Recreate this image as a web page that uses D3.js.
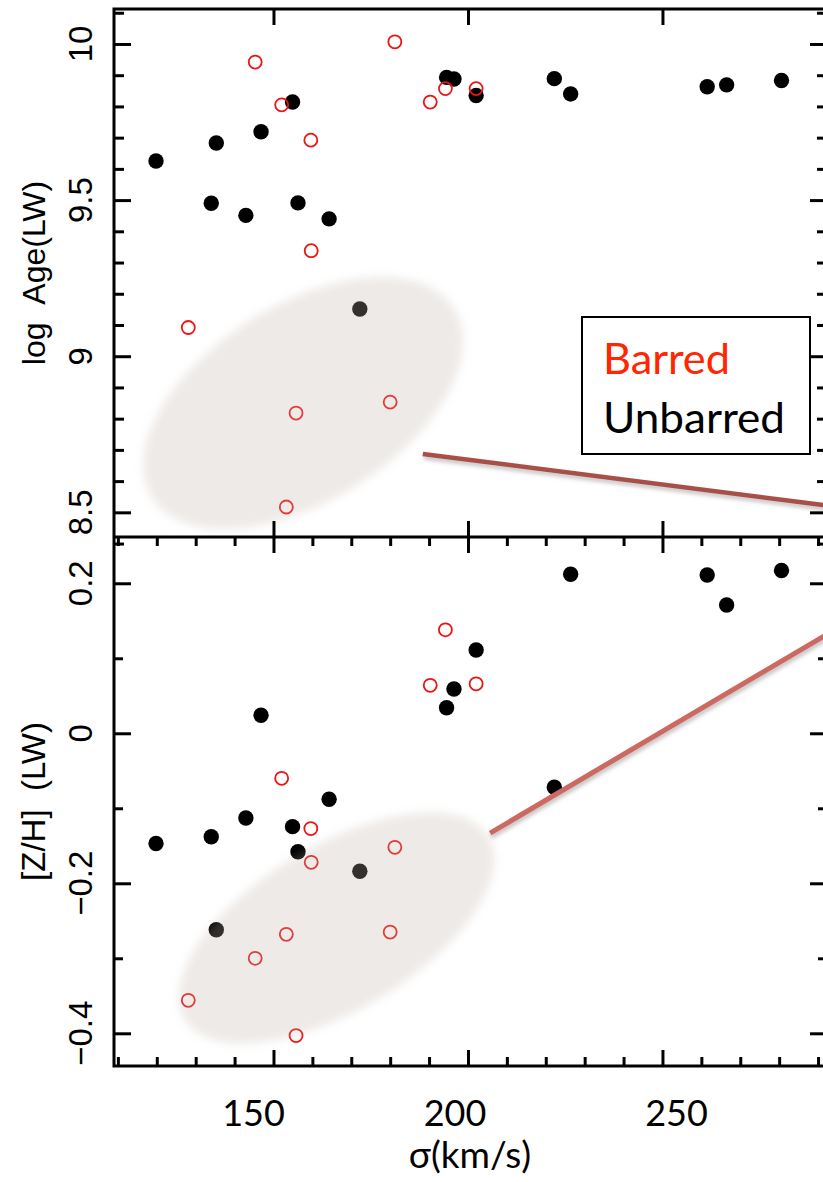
<!DOCTYPE html>
<html><head><meta charset="utf-8">
<script src="https://cdn.jsdelivr.net/npm/d3@7"></script>
<style>html,body{margin:0;padding:0;background:#fff;overflow:hidden}</style>
</head><body>
<svg id="c" width="823" height="1182"></svg>
<script>
// ---------------- data ----------------
const sigmaUnbarred = [119.8, 135.3, 134.0, 146.8, 142.9, 154.9, 156.3, 164.3, 172.2, 194.5, 196.4, 202.1, 222.2, 226.4, 261.5, 266.5, 280.6];
const ageUnbarred   = [9.625, 9.683, 9.490, 9.719, 9.451, 9.814, 9.491, 9.440, 9.151, 9.893, 9.888, 9.835, 9.889, 9.840, 9.863, 9.869, 9.883];
const zhUnbarred    = [-0.147, -0.262, -0.138, 0.024, -0.113, -0.1245, -0.158, -0.088, -0.184, 0.034, 0.059, 0.111, -0.072, 0.212, 0.211, 0.171, 0.217];

const sigmaBarred = [181.2, 145.3, 152.1, 159.6, 159.7, 128.1, 155.8, 180.0, 153.3, 190.3, 194.2, 202.1];
const ageBarred   = [10.007, 9.942, 9.805, 9.692, 9.338, 9.092, 8.818, 8.853, 8.517, 9.814, 9.857, 9.857];
const zhBarred    = [-0.152, -0.300, -0.060, -0.127, -0.172, -0.356, -0.403, -0.265, -0.268, 0.064, 0.138, 0.066];

const sigmaTicks = [150, 200, 250];
const sigmaTickLabels = ["150", "200", "250"];
const ageTicks = [8.5, 9, 9.5, 10];
const ageTickLabels = ["8.5", "9", "9.5", "10"];
const zhTicks = [-0.4, -0.2, 0, 0.2];
const zhTickLabels = ["\u22120.4", "\u22120.2", "0", "0.2"];

const ageTrendSigma = [188.4, 292.3];
const ageTrendValue = [8.687, 8.522];
const zhTrendSigma = [205.7, 292.3];
const zhTrendValue = [-0.133, 0.132];

const ageRegionCenter = [157.6, 8.850];
const zhRegionCenter = [166.2, -0.2596];

const legendLabels = ["Barred", "Unbarred"];

// ---------------- layout ----------------
const L = 114, R = 827, T1 = 9, M = 537, B2 = 1066;
const x = d3.scaleLinear().domain([109, 292.3]).range([L, R]);
const yAge = d3.scaleLinear().domain([8.421, 10.112]).range([M, T1]);
const yZ = d3.scaleLinear().domain([-0.4436, 0.2617]).range([B2, M]);

const svg = d3.select("#c");
const defs = svg.append("defs");
const blur = defs.append("filter").attr("id", "blur").attr("x", "-30%").attr("y", "-30%").attr("width", "160%").attr("height", "160%");
blur.append("feGaussianBlur").attr("stdDeviation", 5);
const sh = defs.append("filter").attr("id", "shadow").attr("x", "-10%").attr("y", "-50%").attr("width", "120%").attr("height", "200%");
sh.append("feDropShadow").attr("dx", 1).attr("dy", 3).attr("stdDeviation", 2).attr("flood-color", "#888").attr("flood-opacity", 0.55);

const red = "#ee1414";
const black = "#000";

function drawPoints(ySc, sigB, valB, sigU, valU) {
  const g = svg.append("g");
  g.selectAll("circle.u").data(d3.zip(sigU, valU)).join("circle")
    .attr("cx", d => x(d[0])).attr("cy", d => ySc(d[1])).attr("r", 7.7).attr("fill", black);
  g.selectAll("circle.b").data(d3.zip(sigB, valB)).join("circle")
    .attr("cx", d => x(d[0])).attr("cy", d => ySc(d[1])).attr("r", 6.5)
    .attr("fill", "none").attr("stroke", red).attr("stroke-width", 1.8);
}
drawPoints(yAge, sigmaBarred, ageBarred, sigmaUnbarred, ageUnbarred);
drawPoints(yZ, sigmaBarred, zhBarred, sigmaUnbarred, zhUnbarred);

// shaded regions (semi-transparent overlay)
function region(ySc, c, rx, ry, rot) {
  const cx = x(c[0]), cy = ySc(c[1]);
  svg.append("ellipse").attr("cx", 0).attr("cy", 0).attr("rx", rx).attr("ry", ry)
    .attr("transform", `translate(${cx},${cy}) rotate(${rot})`)
    .attr("fill", "rgb(190,178,168)").attr("fill-opacity", 0.27).attr("filter", "url(#blur)");
}
region(yAge, ageRegionCenter, 178, 98, -32);
region(yZ, zhRegionCenter, 177, 82, -31);

// trend lines
const line = (ySc) => d3.line().x(d => x(d[0])).y(d => ySc(d[1]));
svg.append("path").datum(d3.zip(ageTrendSigma, ageTrendValue)).attr("d", line(yAge))
  .attr("stroke", "#a8504a").attr("stroke-width", 4.5).attr("fill", "none").attr("filter", "url(#shadow)");
svg.append("path").datum(d3.zip(zhTrendSigma, zhTrendValue)).attr("d", line(yZ))
  .attr("stroke", "#cc6a62").attr("stroke-width", 5).attr("fill", "none").attr("filter", "url(#shadow)");

// axes
function styleAxis(g) {
  g.select(".domain").remove();
  g.selectAll(".tick line").attr("stroke", "#000").attr("stroke-width", 3);
  g.selectAll(".tick text").remove();
}
const minorS = d3.range(110, 292, 10).filter(v => v % 50 !== 0);
const minorAge = d3.range(84, 102, 1).map(v => v / 10).filter(v => Math.abs(v * 2 - Math.round(v * 2)) > 1e-6);
const minorZ = [-0.3, -0.1, 0.1];

// top panel
svg.append("g").attr("transform", `translate(0,${T1})`).call(d3.axisBottom(x).tickValues(sigmaTicks).tickSize(16).tickSizeOuter(0)).call(styleAxis);
svg.append("g").attr("transform", `translate(0,${M})`).call(d3.axisTop(x).tickValues(sigmaTicks).tickSize(16).tickSizeOuter(0)).call(styleAxis);
svg.append("g").attr("transform", `translate(${L},0)`).call(d3.axisRight(yAge).tickValues(ageTicks).tickSize(17).tickSizeOuter(0)).call(styleAxis);
svg.append("g").attr("transform", `translate(${L},0)`).call(d3.axisRight(yAge).tickValues(minorAge).tickSize(10).tickSizeOuter(0)).call(styleAxis);
svg.append("g").attr("transform", `translate(${R},0)`).call(d3.axisLeft(yAge).tickValues(ageTicks).tickSize(17).tickSizeOuter(0)).call(styleAxis);
svg.append("g").attr("transform", `translate(${R},0)`).call(d3.axisLeft(yAge).tickValues(minorAge).tickSize(10).tickSizeOuter(0)).call(styleAxis);
// bottom panel
svg.append("g").attr("transform", `translate(0,${M})`).call(d3.axisBottom(x).tickValues(sigmaTicks).tickSize(16).tickSizeOuter(0)).call(styleAxis);
svg.append("g").attr("transform", `translate(0,${M})`).call(d3.axisBottom(x).tickValues(minorS).tickSize(9).tickSizeOuter(0)).call(styleAxis);
svg.append("g").attr("transform", `translate(0,${B2})`).call(d3.axisTop(x).tickValues(sigmaTicks).tickSize(16).tickSizeOuter(0)).call(styleAxis);
svg.append("g").attr("transform", `translate(0,${B2})`).call(d3.axisTop(x).tickValues(minorS).tickSize(9).tickSizeOuter(0)).call(styleAxis);
svg.append("g").attr("transform", `translate(${L},0)`).call(d3.axisRight(yZ).tickValues(zhTicks).tickSize(17).tickSizeOuter(0)).call(styleAxis);
svg.append("g").attr("transform", `translate(${L},0)`).call(d3.axisRight(yZ).tickValues(minorZ).tickSize(9).tickSizeOuter(0)).call(styleAxis);
svg.append("g").attr("transform", `translate(${R},0)`).call(d3.axisLeft(yZ).tickValues(zhTicks).tickSize(17).tickSizeOuter(0)).call(styleAxis);
svg.append("g").attr("transform", `translate(${R},0)`).call(d3.axisLeft(yZ).tickValues(minorZ).tickSize(9).tickSizeOuter(0)).call(styleAxis);

// frame
svg.append("rect").attr("x", L).attr("y", T1).attr("width", R - L).attr("height", B2 - T1)
  .attr("fill", "none").attr("stroke", "#000").attr("stroke-width", 3);
svg.append("line").attr("x1", L).attr("x2", R).attr("y1", M).attr("y2", M).attr("stroke", "#000").attr("stroke-width", 3);

// y tick labels (rotated)
const yFont = "'Liberation Sans', Arial, sans-serif";
function yLabels(ySc, ticks, labels) {
  svg.append("g").selectAll("text").data(d3.zip(ticks, labels)).join("text")
    .attr("transform", d => `translate(92,${ySc(d[0])}) rotate(-90)`)
    .attr("text-anchor", "middle").attr("font-family", yFont).attr("font-size", 33).attr("fill", "#000")
    .text(d => d[1]);
}
yLabels(yAge, ageTicks, ageTickLabels);
yLabels(yZ, zhTicks, zhTickLabels);

svg.append("text").attr("transform", `translate(45,${(T1 + M) / 2}) rotate(-90)`)
  .attr("text-anchor", "middle").attr("font-family", yFont).attr("font-size", 32).style("white-space", "pre")
  .text("log\u00a0\u00a0Age(LW)");
svg.append("text").attr("transform", `translate(45,${(M + B2) / 2}) rotate(-90)`)
  .attr("text-anchor", "middle").attr("font-family", yFont).attr("font-size", 33).style("white-space", "pre")
  .text("[Z/H]\u00a0\u00a0(LW)");

// x tick labels
const xFont = "Lato, 'Open Sans', sans-serif";
const labelNudge = [-20, -13, 14];
svg.append("g").selectAll("text").data(d3.zip(sigmaTicks, sigmaTickLabels, labelNudge)).join("text")
  .attr("x", d => x(d[0]) + d[2]).attr("y", 1126).attr("text-anchor", "middle")
  .attr("font-family", xFont).attr("font-size", 36).attr("fill", "#000").text(d => d[1]);
svg.append("text").attr("x", 470).attr("y", 1168).attr("text-anchor", "middle")
  .attr("font-family", xFont).attr("font-size", 37).attr("fill", "#000").text("\u03c3(km/s)");

// legend
const lg = svg.append("g");
lg.append("rect").attr("x", 582).attr("y", 317).attr("width", 228).attr("height", 137)
  .attr("fill", "#fff").attr("stroke", "#000").attr("stroke-width", 2);
lg.append("text").attr("x", 603).attr("y", 374).attr("font-family", xFont).attr("font-size", 43)
  .attr("fill", "#ff2600").attr("textLength", 127).attr("lengthAdjust", "spacingAndGlyphs").text(legendLabels[0]);
lg.append("text").attr("x", 603).attr("y", 433).attr("font-family", xFont).attr("font-size", 43)
  .attr("fill", "#000").attr("textLength", 182).attr("lengthAdjust", "spacingAndGlyphs").text(legendLabels[1]);
</script>
</body></html>
